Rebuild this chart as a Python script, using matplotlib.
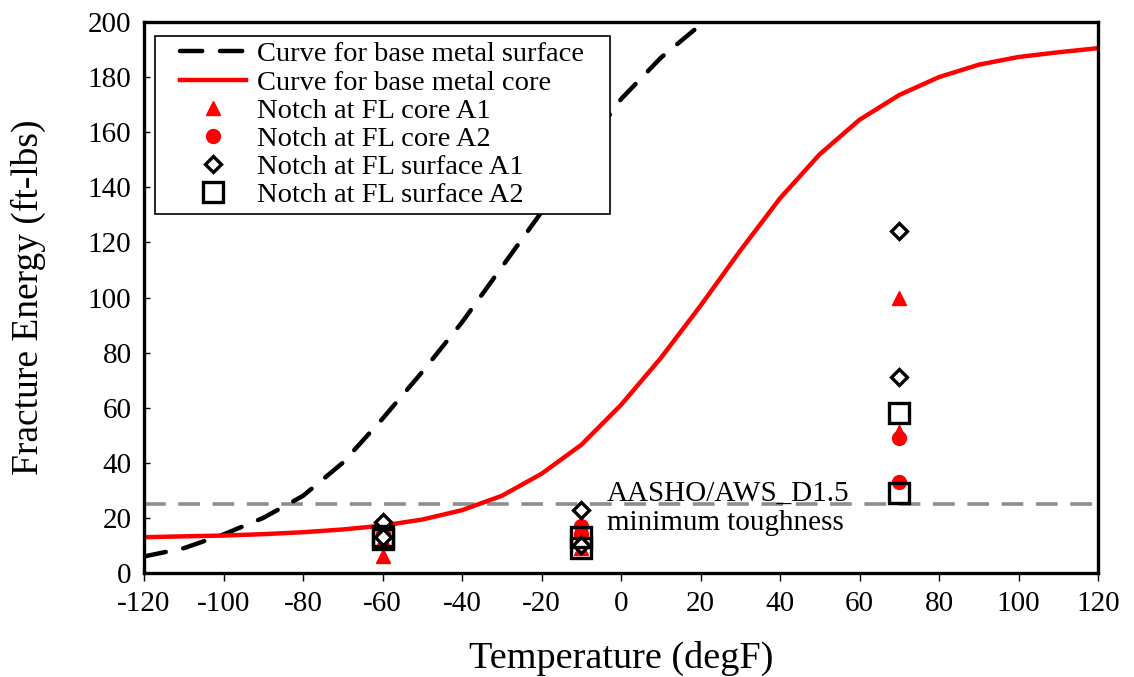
import matplotlib
matplotlib.use("Agg")
import matplotlib.pyplot as plt
from matplotlib.patches import Rectangle

plt.rcParams['font.family'] = ['Liberation Serif', 'DejaVu Serif']
plt.rcParams['axes.unicode_minus'] = False

# Charpy transition curves (fitted)
surf_temp = [-120, -110, -100, -90, -80, -70, -60, -50, -40, -30, -20, -10, 0, 10, 20, 30]
surf_energy = [6, 9, 14, 20, 28, 40, 56, 73, 91, 111, 131, 152, 172, 187, 199, 210]

core_temp = [-120, -110, -100, -90, -80, -70, -60, -50, -40, -30, -20, -10, 0, 10, 20,
             30, 40, 50, 60, 70, 80, 90, 100, 110, 120]
core_energy = [13, 13.3, 13.6, 14.1, 14.8, 15.8, 17.2, 19.4, 22.8, 28, 36, 46.5, 61, 78, 97,
               117, 136, 152, 164.5, 173.5, 180, 184.5, 187.3, 189, 190.5]

# Test specimens, notch at fusion line
core_a1_temp = [-60, -60, -10, -10, 70, 70]
core_a1_energy = [6, 12, 9, 13, 100, 51]
core_a2_temp = [-60, -10, -10, 70, 70]
core_a2_energy = [14, 17, 14, 49, 33]
surf_a1_temp = [-60, -60, -10, -10, 70, 70]
surf_a1_energy = [18.5, 13, 23, 10, 124, 71]
surf_a2_temp = [-60, -60, -10, -10, 70, 70]
surf_a2_energy = [12.5, 13.5, 13, 9, 58, 29]

min_toughness = 25

x_ticks = list(range(-120, 121, 20))
y_ticks = list(range(0, 201, 20))

fig = plt.figure(figsize=(11.34, 6.77), dpi=100)
ax = fig.add_axes([144 / 1134, 1 - 573 / 677, (1098 - 144) / 1134, (573 - 22) / 677])

ax.axhline(min_toughness, color='#8c8c8c', lw=2.6, dashes=(6, 3.5), zorder=1)

ax.plot(surf_temp, surf_energy, color='black', lw=3.2, dashes=(5, 4),
        dash_capstyle='round', label='Curve for base metal surface', zorder=2)
ax.plot(core_temp, core_energy, color='#ff0000', lw=3.2,
        label='Curve for base metal core', zorder=2)

ax.plot(core_a1_temp, core_a1_energy, ls='none', marker='^', ms=10, color='#ff0000',
        mec='#ff0000', label='Notch at FL core A1', zorder=4)
ax.plot(core_a2_temp, core_a2_energy, ls='none', marker='o', ms=10, color='#ff0000',
        mec='#ff0000', label='Notch at FL core A2', zorder=4)
ax.plot(surf_a1_temp, surf_a1_energy, ls='none', marker='D', ms=8, mfc='white',
        mec='black', mew=2.4, label='Notch at FL surface A1', zorder=5)
ax.plot(surf_a2_temp, surf_a2_energy, ls='none', marker='s', ms=15, mfc='none',
        mec='black', mew=2.4, label='Notch at FL surface A2', zorder=5)

ax.text(-3.5, 26.3, 'AASHO/AWS_D1.5', fontsize=21, ha='left', va='baseline')
ax.text(-3.5, 15.6, 'minimum toughness', fontsize=21, ha='left', va='baseline')

ax.set_xlim(-120, 120)
ax.set_ylim(0, 200)
ax.set_xticks(x_ticks)
ax.set_yticks(y_ticks)
ax.tick_params(axis='x', direction='out', length=6, width=1, labelsize=21, pad=7)
ax.tick_params(axis='y', direction='in', length=4, width=1, labelsize=21, pad=9)
for s in ax.spines.values():
    s.set_linewidth(2.4)

ax.set_xlabel('Temperature (degF)', fontsize=27.5, labelpad=17)
ax.set_ylabel('Fracture Energy (ft-lbs)', fontsize=27, labelpad=30)

leg = ax.legend(loc='upper left', bbox_to_anchor=(0.032, 0.975), fontsize=20.5,
                frameon=False, borderpad=0.2, labelspacing=0.08, handlelength=2.3,
                handletextpad=0.4, borderaxespad=0)

# legend frame with wider side margins
fig.canvas.draw()
bb = leg.get_window_extent().transformed(fig.transFigure.inverted())
padx = 20 / 1134
frame = Rectangle((bb.x0 - padx, bb.y0), bb.width + 2 * padx, bb.height,
                  transform=fig.transFigure, fill=True, facecolor='white',
                  edgecolor='black', lw=1.2, zorder=9)
ax.add_artist(frame)
frame.set_clip_on(False)
leg.set_zorder(10)

fig.savefig('out.png', dpi=100)
